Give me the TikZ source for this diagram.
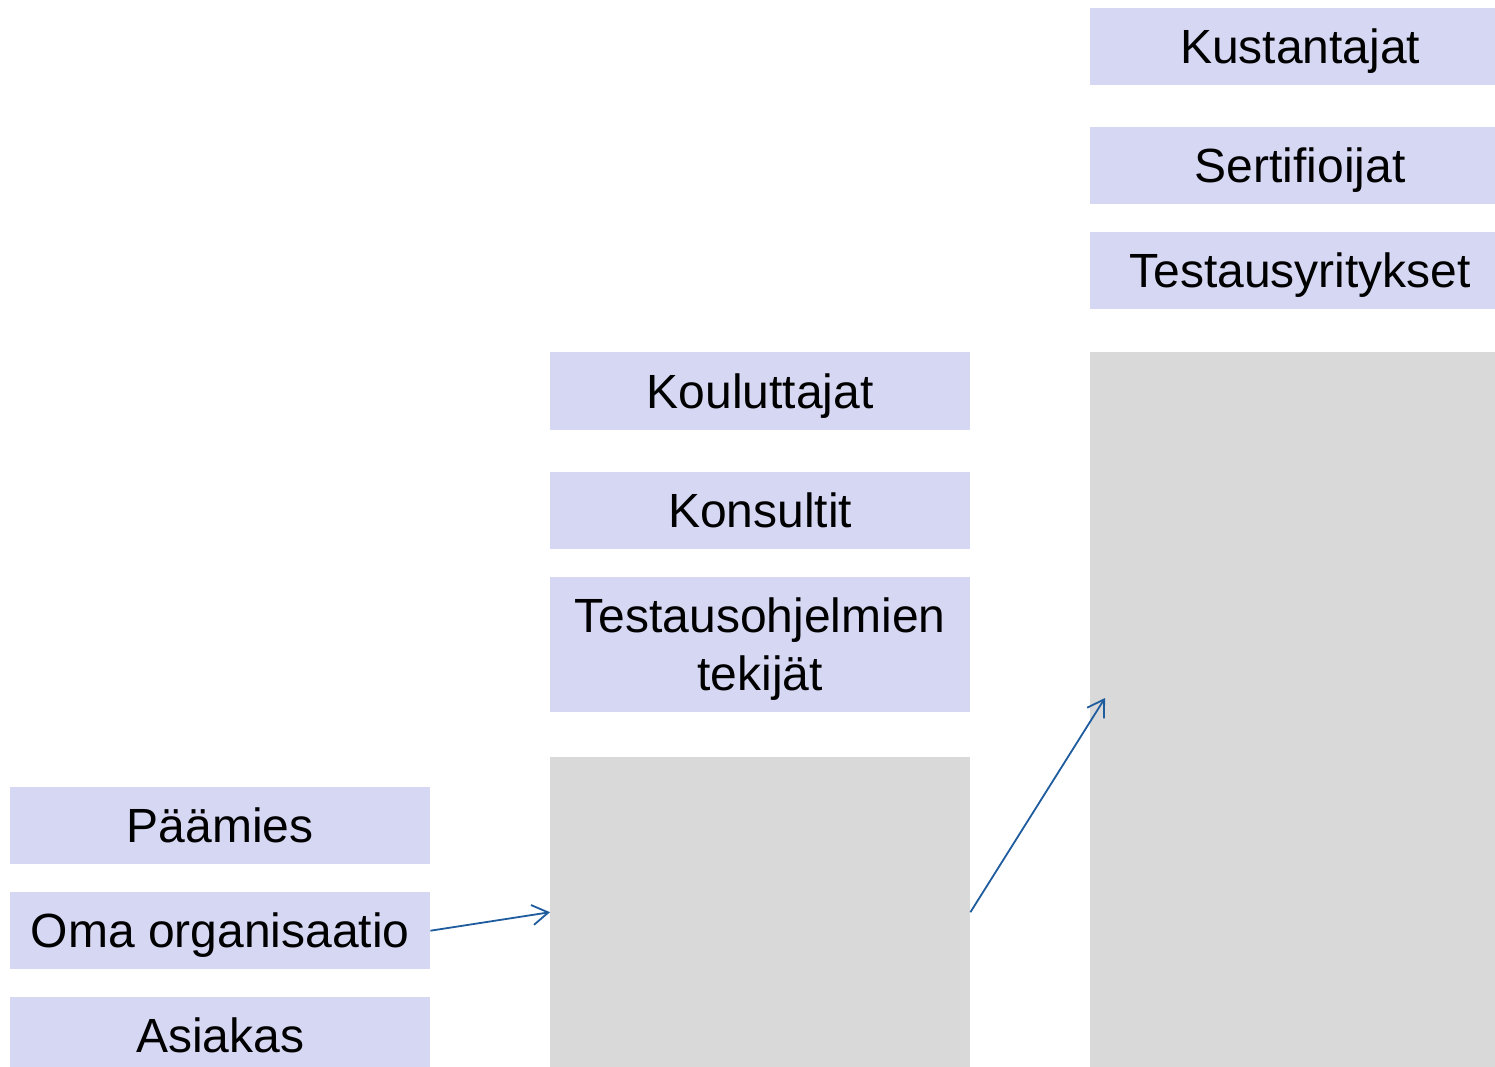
\documentclass[tikz,border=0pt]{standalone}
\usepackage{fontspec}
\setmainfont{Liberation Sans}
\usetikzlibrary{arrows.meta}
\definecolor{boxfill}{HTML}{D6D7F3}
\definecolor{panel}{HTML}{D9D9D9}
\definecolor{link}{HTML}{1F5C9E}
\begin{document}
\begin{tikzpicture}[x=1pt,y=-1pt,
  role/.style={fill=boxfill, draw=none, inner sep=0pt, anchor=north west,
    align=center, font=\fontsize{48}{58}\selectfont,
    minimum width=420pt, minimum height=77pt,
    text height=34pt, text depth=0pt},
  tworole/.style={role, text height=92pt, text depth=0pt},
  panelbox/.style={fill=panel, draw=none, inner sep=0pt, anchor=north west,
    minimum width=420pt},
  flow/.style={draw=link, line width=1.8pt,
    -{Straight Barb[length=16pt,width=20pt,line width=1.8pt]}}]
\useasboundingbox (0,0) rectangle (1495,1067);
\clip (0,0) rectangle (1495,1067);

% right column (runs past the right edge)
\node[role] (kust) at (1090,8) {Kustantajat};
\node[role] (sert) at (1090,127) {Sertifioijat};
\node[role] (testy) at (1090,232) {Testausyritykset};
\node[panelbox, minimum height=715pt] (rightpanel) at (1090,352) {};

% middle column
\node[role, minimum height=78pt] (koul) at (550,352) {Kouluttajat};
\node[role] (kons) at (550,472) {Konsultit};
\node[tworole, minimum height=135pt] (tekijat) at (550,577) {Testausohjelmien\\tekijät};
\node[panelbox, minimum height=310pt] (midpanel) at (550,757) {};

% left column
\node[role] (paam) at (10,787) {Päämies};
\node[role] (oma) at (10,892) {Oma organisaatio};
\node[role] (asiakas) at (10,997) {Asiakas};

% connectors
\coordinate (rightin) at (1105,698);
\draw[flow] (oma.east) -- (midpanel.west);
\draw[flow] (midpanel.east) -- (rightin);
\end{tikzpicture}
\end{document}
